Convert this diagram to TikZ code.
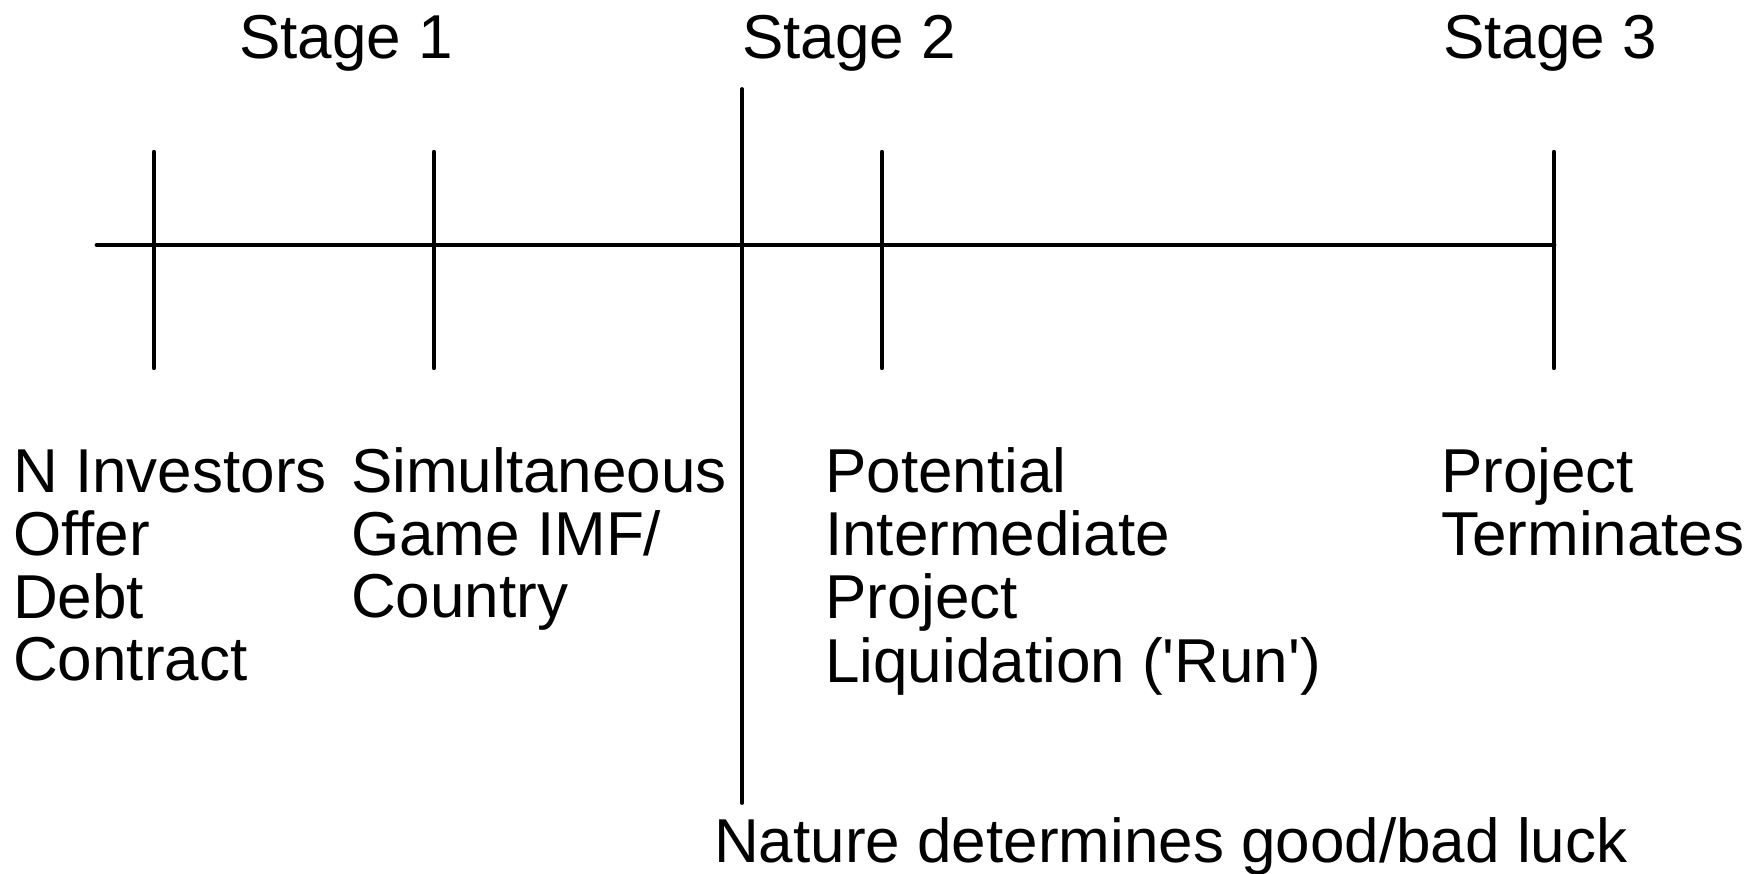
\documentclass[tikz,border=0pt]{standalone}
\usepackage{fontspec}
\setmainfont{Liberation Sans}
\newcommand{\stk}[1]{\begin{tabular}[t]{@{}l@{}}#1\end{tabular}}
\begin{document}
\begin{tikzpicture}[x=1pt,y=-1pt,
  lbl/.style={anchor=base west,inner sep=0pt,font=\fontsize{62}{61.6}\selectfont},
  axis/.style={line width=4.8pt,line cap=round},
  tick/.style={line width=4.4pt,line cap=round},
  nature/.style={line width=3.8pt,line cap=round}]
\useasboundingbox (0,0) rectangle (1756,873);
% timeline coordinates
\coordinate (a0) at (97,245);
\coordinate (t1u) at (154,152); \coordinate (t1d) at (154,368);
\coordinate (t2u) at (434,152); \coordinate (t2d) at (434,368);
\coordinate (t3u) at (882,152); \coordinate (t3d) at (882,368);
\coordinate (t4u) at (1554,152); \coordinate (t4d) at (1554,368);
\coordinate (a1) at (1554,245);
\coordinate (nu) at (742,89); \coordinate (nd) at (742,803);
\draw[axis] (a0) -- (a1);
\draw[tick] (t1u) -- (t1d);
\draw[tick] (t2u) -- (t2d);
\draw[tick] (t3u) -- (t3d);
\draw[tick] (t4u) -- (t4d);
\draw[nature] (nu) -- (nd);
% labels
\node[lbl] (s1) at (239,58) {Stage 1};
\node[lbl] (s2) at (742,58) {Stage 2};
\node[lbl] (s3) at (1443,58) {Stage 3};
\node[lbl] (b1) at (13,492) {\stk{N Investors\\Offer\\Debt\\Contract}};
\node[lbl] (b2) at (351,492) {\stk{Simultaneous\\Game IMF/\\Country}};
\node[lbl] (b3) at (825,492) {\stk{Potential\\Intermediate\\Project\\Liquidation (\textquotesingle Run\textquotesingle)}};
\node[lbl] (b4) at (1441,492) {\stk{Project\\Terminates}};
\node[lbl] (nat) at (714,862) {Nature determines good/bad luck};
\end{tikzpicture}
\end{document}
